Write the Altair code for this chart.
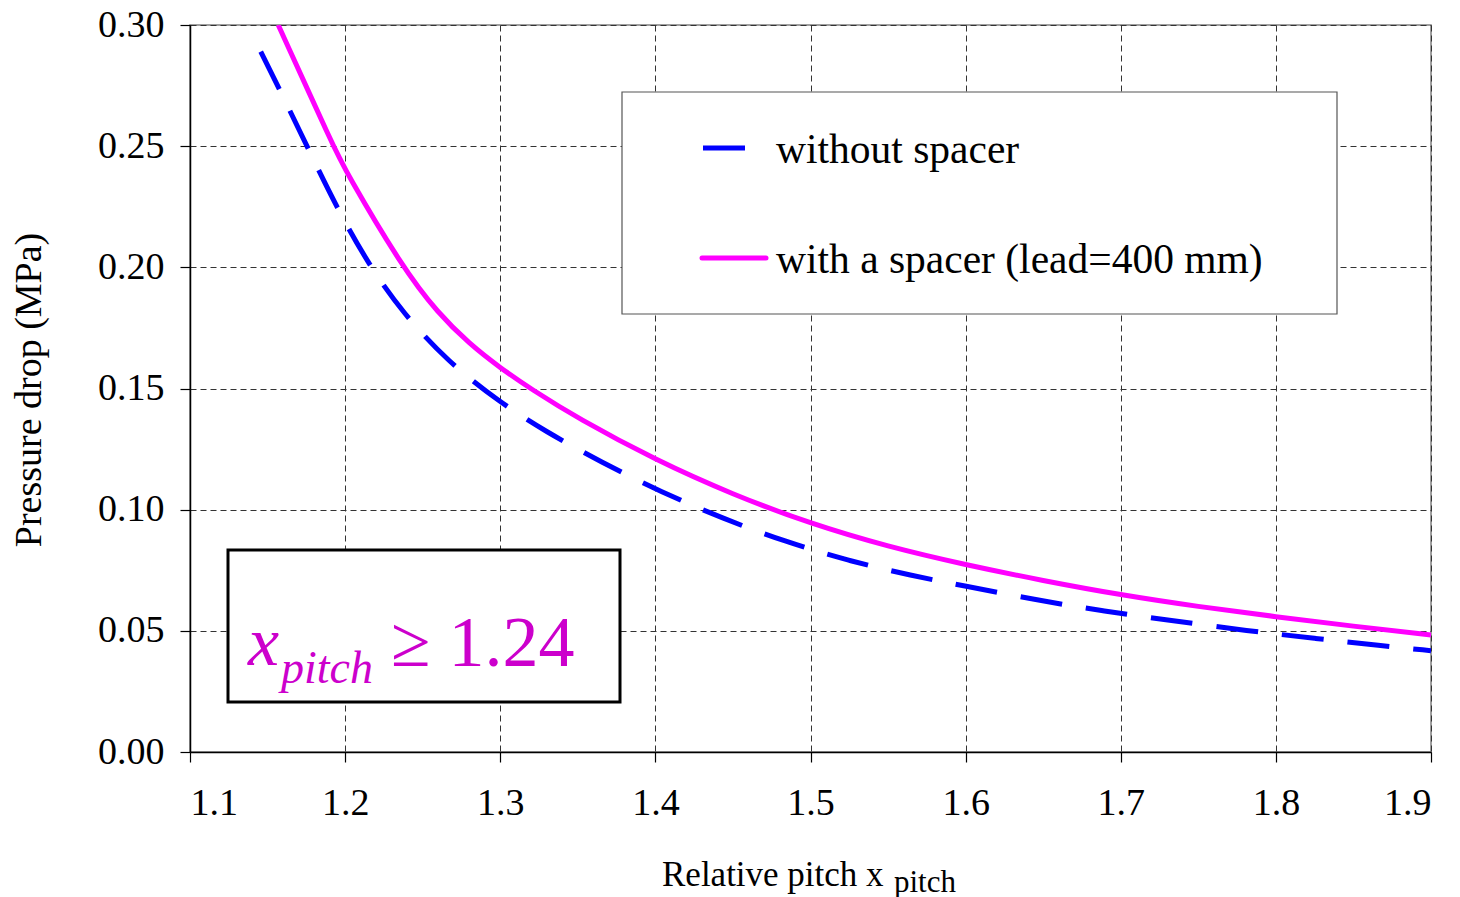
import altair as alt
import pandas as pd

# Data
x_without = [1.1456, 1.1576, 1.1759, 1.1946, 1.2156, 1.2371, 1.2661, 1.2998, 1.3282, 1.3656,
             1.4041, 1.4432, 1.4836, 1.5244, 1.5663, 1.5964, 1.6454, 1.6877, 1.7296, 1.7829,
             1.8252, 1.8676, 1.9]
y_without = [0.2890, 0.2736, 0.2494, 0.2246, 0.2007, 0.1813, 0.1611, 0.1443, 0.1326, 0.1194,
             0.1072, 0.0964, 0.0868, 0.0789, 0.0726, 0.0689, 0.0627, 0.0583, 0.0545, 0.0499,
             0.0469, 0.0439, 0.0418]

x_with = [1.1569, 1.1924, 1.20, 1.2369, 1.26, 1.28, 1.30, 1.32, 1.35, 1.40, 1.45, 1.50,
          1.55, 1.60, 1.65, 1.70, 1.75, 1.80, 1.85, 1.90]
y_with = [0.300, 0.250, 0.240, 0.200, 0.181, 0.1685, 0.1585, 0.1497, 0.1377, 0.1205, 0.1062,
          0.0942, 0.0847, 0.0772, 0.0707, 0.0648, 0.0600, 0.0558, 0.0519, 0.0483]

x_ticks = [1.1, 1.2, 1.3, 1.4, 1.5, 1.6, 1.7, 1.8, 1.9]
y_ticks = [0.0, 0.05, 0.10, 0.15, 0.20, 0.25, 0.30]

legend_labels = ["without spacer", "with a spacer (lead=400 mm)"]
x_title = "Relative pitch x"
x_title_sub = "pitch"
y_title = "Pressure drop (MPa)"
note_main = "x"
note_sub = "pitch"
note_rest = "\u2265 1.24"

FONT = "Liberation Serif"
BLUE = "#0000FF"
MAGENTA = "#FF00FF"
NOTE = "#CC00CC"

W, H = 1241, 727

df_without = pd.DataFrame({"x": x_without, "y": y_without})
df_with = pd.DataFrame({"x": x_with, "y": y_with})
one = pd.DataFrame({"a": [0]})

xscale = alt.Scale(domain=[1.1, 1.9], nice=False, zero=False)
yscale = alt.Scale(domain=[0, 0.3], nice=False, zero=False)

xaxis = alt.Axis(values=x_ticks, format=".1f", title=None, grid=True)
yaxis = alt.Axis(values=y_ticks, format=".2f", title=None, grid=True)

line_without = alt.Chart(df_without).mark_line(
    color=BLUE, strokeWidth=5, strokeDash=[42, 24], interpolate="basis", clip=True
).encode(
    x=alt.X("x:Q", scale=xscale, axis=xaxis),
    y=alt.Y("y:Q", scale=yscale, axis=yaxis),
)

line_with = alt.Chart(df_with).mark_line(
    color=MAGENTA, strokeWidth=5, interpolate="basis", clip=True
).encode(
    x=alt.X("x:Q", scale=xscale, axis=xaxis),
    y=alt.Y("y:Q", scale=yscale, axis=yaxis),
)

# Legend box
leg_box = alt.Chart(one).mark_rect(fill="white", stroke="#555555", strokeWidth=1.2).encode(
    x=alt.value(432), x2=alt.value(1147), y=alt.value(67), y2=alt.value(289)
)
leg_line1 = alt.Chart(one).mark_rule(color=BLUE, strokeWidth=5).encode(
    x=alt.value(513), x2=alt.value(555), y=alt.value(123)
)
leg_line2 = alt.Chart(one).mark_rule(color=MAGENTA, strokeWidth=5, strokeCap="round").encode(
    x=alt.value(512), x2=alt.value(576), y=alt.value(233)
)
leg_text1 = alt.Chart(one).mark_text(
    text=legend_labels[0], font=FONT, fontSize=41.5, align="left", baseline="alphabetic", color="black"
).encode(x=alt.value(586), y=alt.value(138))
leg_text2 = alt.Chart(one).mark_text(
    text=legend_labels[1], font=FONT, fontSize=41.5, align="left", baseline="alphabetic", color="black"
).encode(x=alt.value(586), y=alt.value(248))

# Annotation box
note_box = alt.Chart(one).mark_rect(fill="white", stroke="black", strokeWidth=3).encode(
    x=alt.value(38), x2=alt.value(430), y=alt.value(525), y2=alt.value(677)
)
note1 = alt.Chart(one).mark_text(
    text=note_main, font=FONT, fontSize=70, fontStyle="italic", align="left",
    baseline="alphabetic", color=NOTE
).encode(x=alt.value(58), y=alt.value(640))
note2 = alt.Chart(one).mark_text(
    text=note_sub, font=FONT, fontSize=46, fontStyle="italic", align="left",
    baseline="alphabetic", color=NOTE
).encode(x=alt.value(91), y=alt.value(658))
note3 = alt.Chart(one).mark_text(
    text=note_rest, font=FONT, fontSize=72, align="left",
    baseline="alphabetic", color=NOTE
).encode(x=alt.value(201), y=alt.value(641))

# Axis titles
xt1 = alt.Chart(one).mark_text(
    text=x_title, font=FONT, fontSize=35, align="left", baseline="alphabetic", color="black"
).encode(x=alt.value(472), y=alt.value(861))
xt2 = alt.Chart(one).mark_text(
    text=x_title_sub, font=FONT, fontSize=31, align="left", baseline="alphabetic", color="black"
).encode(x=alt.value(704), y=alt.value(867))
yt = alt.Chart(one).mark_text(
    text=y_title, font=FONT, fontSize=38, angle=270, align="center", baseline="middle", color="black"
).encode(x=alt.value(-160), y=alt.value(365))

chart = alt.layer(
    line_without, line_with, leg_box, leg_line1, leg_line2, leg_text1, leg_text2,
    note_box, note1, note2, note3, xt1, xt2, yt
).properties(
    width=W, height=H,
    autosize=alt.AutoSizeParams(type="none"),
    padding={"left": 182, "top": 17, "right": 21, "bottom": 145},
).configure_view(
    stroke="#808080", strokeWidth=1.5
).configure_axis(
    labelFont=FONT, labelFontSize=38, labelColor="black",
    domainColor="black", domainWidth=1.5,
    tickColor="black", tickSize=10, tickWidth=1.2,
    gridColor="#333333", gridDash=[6, 4], gridWidth=1, gridOpacity=1,
).configure_axisX(
    labelPadding=22
).configure_axisY(
    labelPadding=16
)

chart.save("out.html", embed_options={"renderer": "svg", "actions": False})
